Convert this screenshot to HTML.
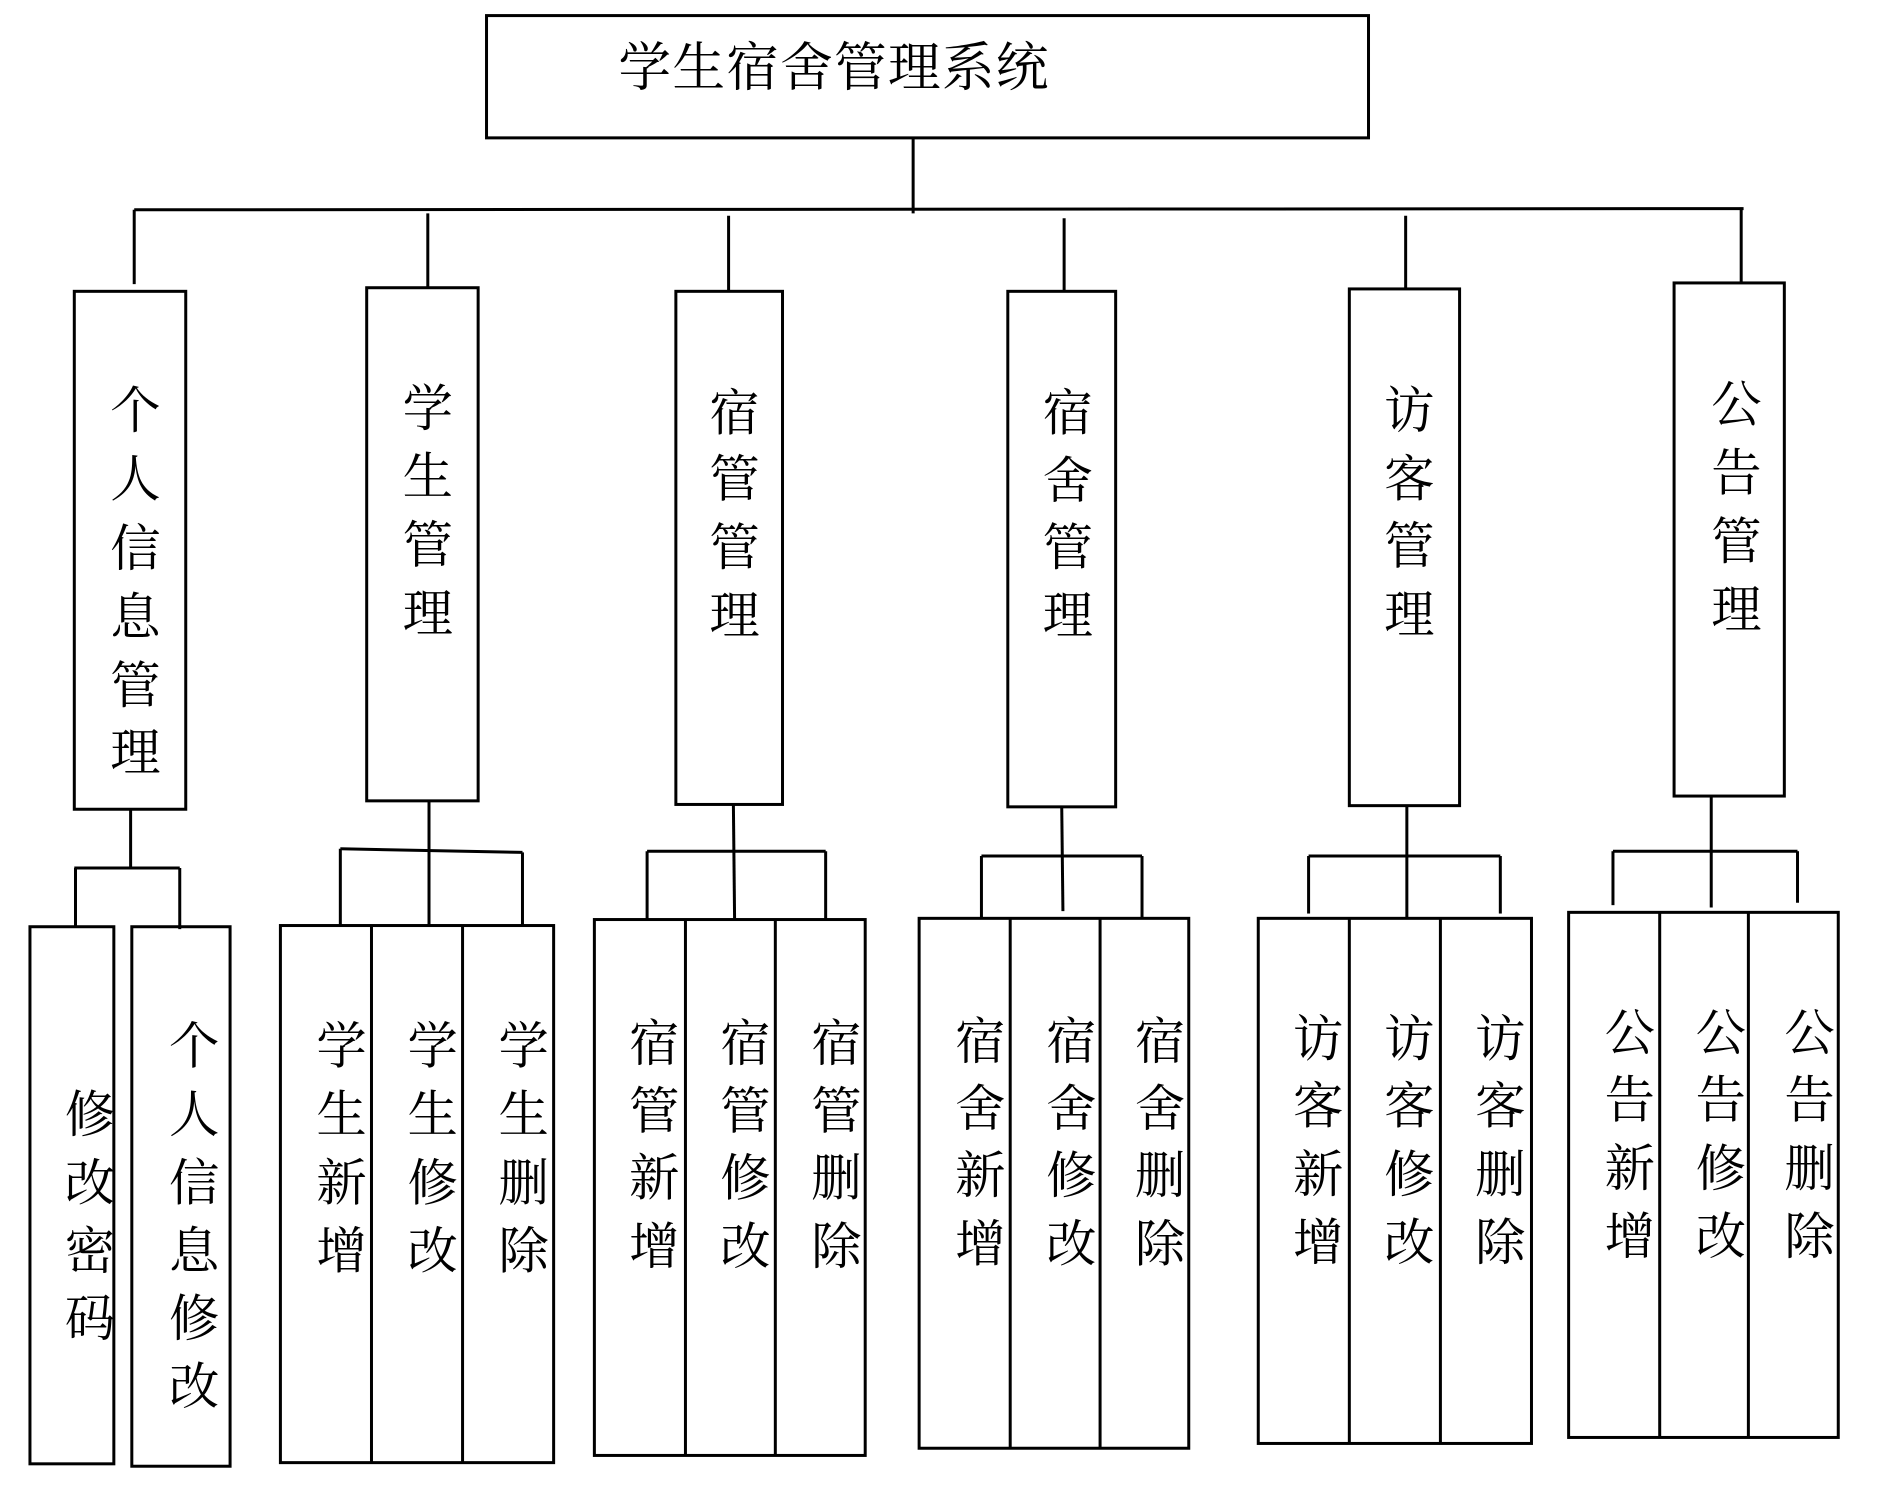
<!DOCTYPE html>
<html><head><meta charset="utf-8"><style>
html,body{margin:0;padding:0;background:#fff;}
svg{display:block;}
text{font-family:"Liberation Serif","Noto Serif CJK SC","Noto Sans CJK SC",serif;font-size:42px;fill:#000;text-anchor:middle;dominant-baseline:central;}
</style></head><body>
<svg width="1879" height="1495" viewBox="0 0 1568 1247" preserveAspectRatio="none" xmlns="http://www.w3.org/2000/svg">
<g fill="none" stroke="#000" stroke-width="2.5">
<rect x="406" y="13" width="736" height="102"/>
<line x1="762" y1="115" x2="762" y2="178"/>
<line x1="112" y1="175" x2="1455" y2="174"/>
<line x1="112" y1="175" x2="112" y2="237"/>
<line x1="357" y1="178" x2="357" y2="240"/>
<line x1="608" y1="180" x2="608" y2="243"/>
<line x1="888" y1="182" x2="888" y2="243"/>
<line x1="1173" y1="180" x2="1173" y2="241"/>
<line x1="1453" y1="173" x2="1453" y2="236"/>
<rect x="62" y="243" width="93" height="432"/>
<rect x="306" y="240" width="93" height="428"/>
<rect x="564" y="243" width="89" height="428"/>
<rect x="841" y="243" width="90" height="430"/>
<rect x="1126" y="241" width="92" height="431"/>
<rect x="1397" y="236" width="92" height="428"/>
<line x1="109" y1="675" x2="109" y2="724"/>
<line x1="62" y1="724" x2="150" y2="724"/>
<line x1="63" y1="724" x2="63" y2="773"/>
<line x1="150" y1="724" x2="150" y2="775"/>
<rect x="25" y="773" width="70" height="448"/>
<rect x="110" y="773" width="82" height="450"/>
<line x1="358" y1="668" x2="358" y2="772"/>
<line x1="284" y1="708" x2="436" y2="711"/>
<line x1="284" y1="708" x2="284" y2="772"/>
<line x1="436" y1="711" x2="436" y2="772"/>
<rect x="234" y="772" width="228" height="448"/>
<line x1="310" y1="772" x2="310" y2="1220"/>
<line x1="386" y1="772" x2="386" y2="1220"/>
<line x1="612" y1="671" x2="613" y2="766"/>
<line x1="540" y1="710" x2="689" y2="710"/>
<line x1="540" y1="710" x2="540" y2="768"/>
<line x1="689" y1="710" x2="689" y2="768"/>
<rect x="496" y="767" width="226" height="447"/>
<line x1="572" y1="767" x2="572" y2="1214"/>
<line x1="647" y1="767" x2="647" y2="1214"/>
<line x1="886" y1="673" x2="887" y2="760"/>
<line x1="819" y1="714" x2="953" y2="714"/>
<line x1="819" y1="714" x2="819" y2="766"/>
<line x1="953" y1="714" x2="953" y2="766"/>
<rect x="767" y="766" width="225" height="442"/>
<line x1="843" y1="766" x2="843" y2="1208"/>
<line x1="918" y1="766" x2="918" y2="1208"/>
<line x1="1174" y1="672" x2="1174" y2="766"/>
<line x1="1092" y1="714" x2="1252" y2="714"/>
<line x1="1092" y1="714" x2="1092" y2="762"/>
<line x1="1252" y1="714" x2="1252" y2="762"/>
<rect x="1050" y="766" width="228" height="438"/>
<line x1="1126" y1="766" x2="1126" y2="1204"/>
<line x1="1202" y1="766" x2="1202" y2="1204"/>
<line x1="1428" y1="664" x2="1428" y2="757"/>
<line x1="1346" y1="710" x2="1500" y2="710"/>
<line x1="1346" y1="710" x2="1346" y2="755"/>
<line x1="1500" y1="710" x2="1500" y2="753"/>
<rect x="1309" y="761" width="225" height="438"/>
<line x1="1385" y1="761" x2="1385" y2="1199"/>
<line x1="1459" y1="761" x2="1459" y2="1199"/>
</g>
<text x="696" y="57" style="font-size:44px;letter-spacing:1px">学生宿舍管理系统</text>
<g>
<text x="113" y="343">个</text><text x="113" y="400">人</text><text x="113" y="458">信</text><text x="113" y="515">息</text><text x="113" y="572">管</text><text x="113" y="628">理</text>
<text x="357" y="341">学</text><text x="357" y="398">生</text><text x="357" y="455">管</text><text x="357" y="512">理</text>
<text x="613" y="345">宿</text><text x="613" y="400">管</text><text x="613" y="457">管</text><text x="613" y="514">理</text>
<text x="891" y="345">宿</text><text x="891" y="401">舍</text><text x="891" y="457">管</text><text x="891" y="514">理</text>
<text x="1176" y="343">访</text><text x="1176" y="400">客</text><text x="1176" y="456">管</text><text x="1176" y="513">理</text>
<text x="1449" y="338">公</text><text x="1449" y="395">告</text><text x="1449" y="452">管</text><text x="1449" y="509">理</text>
</g>
<g>
<text x="75" y="930">修</text><text x="75" y="987">改</text><text x="75" y="1044">密</text><text x="75" y="1100">码</text>
<text x="162" y="873">个</text><text x="162" y="930">人</text><text x="162" y="987">信</text><text x="162" y="1044">息</text><text x="162" y="1100">修</text><text x="162" y="1157">改</text>
<text x="285" y="873">学</text><text x="285" y="930">生</text><text x="285" y="987">新</text><text x="285" y="1044">增</text>
<text x="361" y="873">学</text><text x="361" y="930">生</text><text x="361" y="987">修</text><text x="361" y="1044">改</text>
<text x="437" y="873">学</text><text x="437" y="930">生</text><text x="437" y="987">删</text><text x="437" y="1044">除</text>
<text x="546" y="871">宿</text><text x="546" y="927">管</text><text x="546" y="983">新</text><text x="546" y="1040">增</text>
<text x="622" y="871">宿</text><text x="622" y="927">管</text><text x="622" y="983">修</text><text x="622" y="1040">改</text>
<text x="698" y="871">宿</text><text x="698" y="927">管</text><text x="698" y="983">删</text><text x="698" y="1040">除</text>
<text x="818" y="869">宿</text><text x="818" y="925">舍</text><text x="818" y="981">新</text><text x="818" y="1038">增</text>
<text x="894" y="869">宿</text><text x="894" y="925">舍</text><text x="894" y="981">修</text><text x="894" y="1038">改</text>
<text x="968" y="869">宿</text><text x="968" y="925">舍</text><text x="968" y="981">删</text><text x="968" y="1038">除</text>
<text x="1100" y="867">访</text><text x="1100" y="923">客</text><text x="1100" y="980">新</text><text x="1100" y="1037">增</text>
<text x="1176" y="867">访</text><text x="1176" y="923">客</text><text x="1176" y="980">修</text><text x="1176" y="1037">改</text>
<text x="1252" y="867">访</text><text x="1252" y="923">客</text><text x="1252" y="980">删</text><text x="1252" y="1037">除</text>
<text x="1360" y="862">公</text><text x="1360" y="918">告</text><text x="1360" y="975">新</text><text x="1360" y="1032">增</text>
<text x="1436" y="862">公</text><text x="1436" y="918">告</text><text x="1436" y="975">修</text><text x="1436" y="1032">改</text>
<text x="1510" y="862">公</text><text x="1510" y="918">告</text><text x="1510" y="975">删</text><text x="1510" y="1032">除</text>
</g>
</svg>
</body></html>
